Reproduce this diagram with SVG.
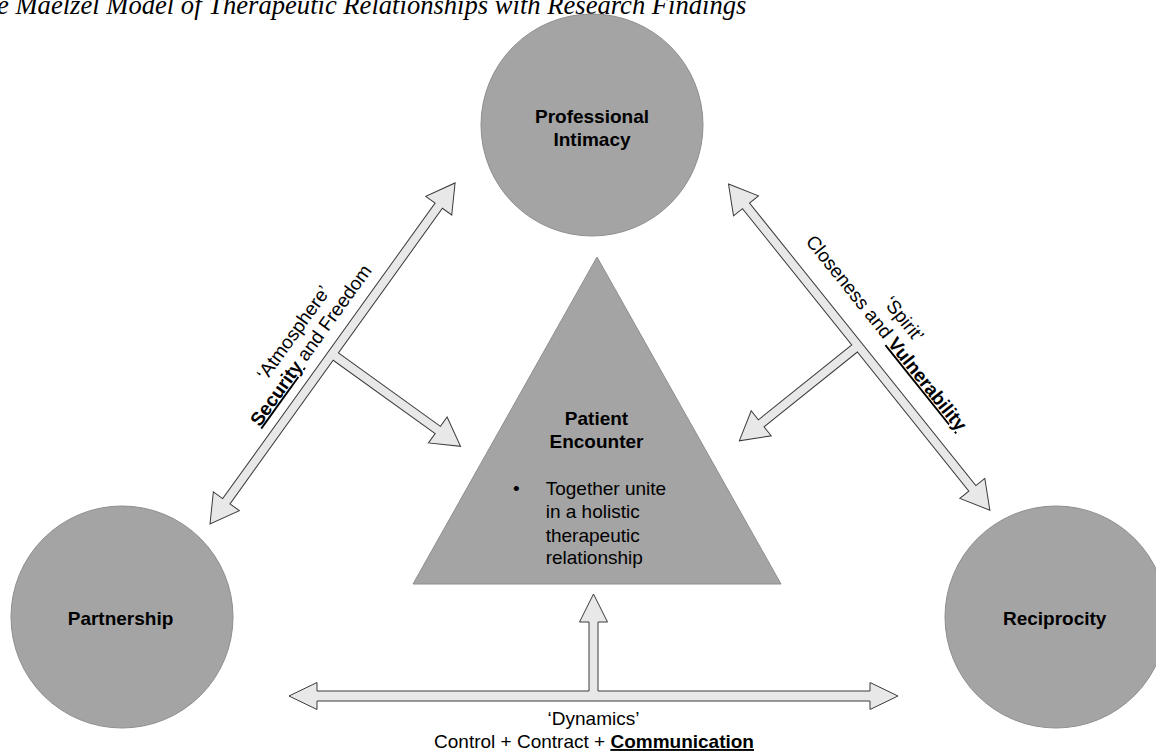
<svg xmlns="http://www.w3.org/2000/svg" width="1156" height="751" viewBox="0 0 1156 751">
  <style>
    .node { fill: #a4a4a4; stroke: #8e8e8e; stroke-width: 1; }
    .arrow { fill: #e8e8e8; stroke: #3a3a3a; stroke-width: 1; stroke-linejoin: miter; }
    .lbl { font-family: "Liberation Sans", Arial, sans-serif; font-size: 19px; fill: #000; }
    .b { font-weight: bold; }
    .u { font-weight: bold; text-decoration: underline; }
    .title { font-family: "Liberation Serif", "Times New Roman", serif; font-style: italic; font-size: 26.6px; fill: #000; }
  </style>

  <!-- heading -->
  <text class="title" x="-3" y="13.5">e Maelzel Model of Therapeutic Relationships with Research Findings</text>

  <!-- connectors -->
  <g id="connectors">
    <!-- Partnership <-> Professional Intimacy, with branch to the encounter -->
    <polygon class="arrow" transform="translate(210,524) rotate(-54.3)"
      points="0,0 28,-16 28,-4.5 392,-4.5 392,-16 420,0 392,16 392,4.5 213.8,4.5 213.8,130.1 225.3,130.1 209.3,158.1 193.3,130.1 204.8,130.1 204.8,4.5 28,4.5 28,16"/>
    <!-- Professional Intimacy <-> Reciprocity, with branch to the encounter -->
    <polygon class="arrow" transform="translate(728.5,184) rotate(51.3)"
      points="0,0 28,-16 28,-4.5 390,-4.5 390,-16 418,0 390,16 390,4.5 211.7,4.5 211.7,124.1 223.2,124.1 207.2,152.1 191.2,124.1 202.7,124.1 202.7,4.5 28,4.5 28,16"/>
    <!-- Partnership <-> Reciprocity, with branch up to the encounter -->
    <polygon class="arrow"
      points="289,696 317,682.5 317,691 589,691 589,622 579.5,622 593.5,594 607.5,622 598,622 598,691 870,691 870,682.5 898,696 870,709.5 870,701 317,701 317,709.5"/>

    <!-- connector labels -->
    <g transform="translate(210,524) rotate(-54.3)" class="lbl" text-anchor="middle">
      <text x="204" y="-37.4">‘Atmosphere’</text>
      <text x="204" y="-16"><tspan class="u">Security</tspan> and Freedom</text>
    </g>
    <g transform="translate(728.5,184) rotate(51.3)" class="lbl" text-anchor="middle">
      <text x="215" y="-46">‘Spirit’</text>
      <text x="215" y="-23.7">Closeness and <tspan class="u">Vulnerability</tspan></text>
    </g>
    <g class="lbl" text-anchor="middle">
      <text x="593.5" y="725">‘Dynamics’</text>
      <text x="594" y="748">Control + Contract + <tspan class="u">Communication</tspan></text>
    </g>
  </g>

  <!-- nodes -->
  <g id="professional-intimacy">
    <circle class="node" cx="592" cy="125" r="111"/>
    <text class="lbl b" text-anchor="middle"><tspan x="592" y="122.5">Professional</tspan><tspan x="592" y="146">Intimacy</tspan></text>
  </g>

  <g id="partnership">
    <circle class="node" cx="122" cy="617" r="111"/>
    <text class="lbl b" x="120.5" y="625" text-anchor="middle">Partnership</text>
  </g>

  <g id="reciprocity">
    <circle class="node" cx="1056" cy="617" r="111"/>
    <text class="lbl b" x="1054.7" y="625" text-anchor="middle">Reciprocity</text>
  </g>

  <g id="patient-encounter">
    <polygon class="node" points="597,257 413,584 781,584"/>
    <text class="lbl b" text-anchor="middle"><tspan x="596.5" y="425">Patient</tspan><tspan x="596.5" y="448">Encounter</tspan></text>
    <text class="lbl" x="513" y="495">•</text>
    <text class="lbl"><tspan x="545.7" y="495">Together unite</tspan><tspan x="545.7" y="518">in a holistic</tspan><tspan x="545.7" y="541.5">therapeutic</tspan><tspan x="545.7" y="564">relationship</tspan></text>
  </g>
</svg>
